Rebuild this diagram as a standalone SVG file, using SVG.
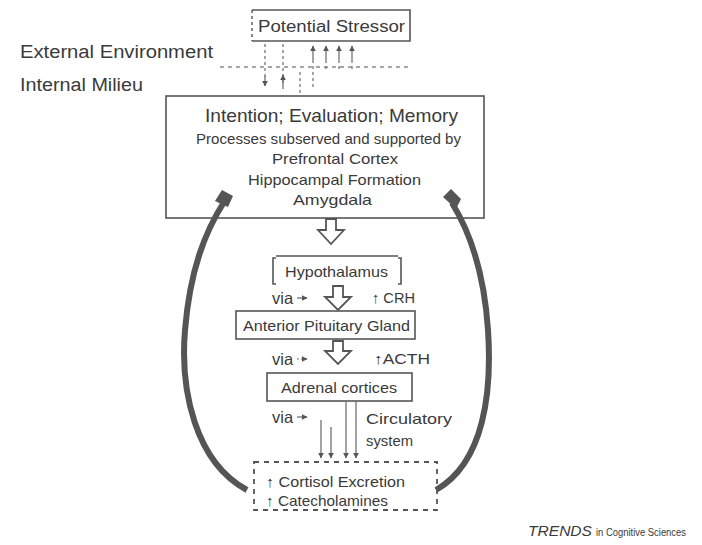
<svg xmlns="http://www.w3.org/2000/svg" width="702" height="545" viewBox="0 0 702 545">
<defs>
<style>
text{font-family:"Liberation Sans",Arial,sans-serif;fill:#3a3a3a}
.box{fill:#fff;stroke:#555;stroke-width:1.6}
.dash{fill:none;stroke:#555;stroke-width:1.8;stroke-dasharray:5 5}
.thin{stroke:#666;stroke-width:1.2;fill:none}
.dot{stroke:#777;stroke-width:1.3;fill:none;stroke-dasharray:3 3}
.hollow{fill:#fff;stroke:#555;stroke-width:1.8;stroke-linejoin:miter}
.arc{fill:none;stroke:#555;stroke-width:6}
.t19{font-size:19px}
.t14{font-size:14.5px}
.t15{font-size:15px}
.via{font-size:16.5px}
</style>
<marker id="sa" viewBox="0 0 10 10" refX="9" refY="5" markerWidth="6" markerHeight="6" orient="auto" markerUnits="userSpaceOnUse"><path d="M0,0 L10,5 L0,10 Z" fill="#555"/></marker>
</defs>
<rect width="702" height="545" fill="#fff"/>

<text x="20" y="58" style="font-size:18px" textLength="193" lengthAdjust="spacingAndGlyphs">External Environment</text>
<text x="20" y="91" style="font-size:18px" textLength="123" lengthAdjust="spacingAndGlyphs">Internal Milieu</text>

<g id="stressor">
<path d="M252,10 L410,10 L410,41 L252,41" fill="#fff" stroke="#555" stroke-width="1.6"/>
<path d="M252,10 L252,41" stroke="#555" stroke-width="1.4" stroke-dasharray="3 3"/>
<text x="258" y="32" style="font-size:16px" textLength="147" lengthAdjust="spacingAndGlyphs">Potential Stressor</text>
</g>

<g id="main">
<rect class="box" x="166" y="96" width="318" height="122"/>
<text x="205" y="122" class="t19" textLength="253" lengthAdjust="spacingAndGlyphs">Intention; Evaluation; Memory</text>
<text x="196" y="144" class="t14" textLength="265" lengthAdjust="spacingAndGlyphs">Processes subserved and supported by</text>
<text x="272" y="164" class="t14" textLength="126" lengthAdjust="spacingAndGlyphs">Prefrontal Cortex</text>
<text x="248" y="185" class="t14" textLength="173" lengthAdjust="spacingAndGlyphs">Hippocampal Formation</text>
<text x="293" y="205" class="t14" textLength="79" lengthAdjust="spacingAndGlyphs">Amygdala</text>
</g>

<g id="hypothalamus">
<path d="M276,258 L273,258 L273,284 L276,284 M398,258 L401,258 L401,284 L398,284 M276,256 L398,256" fill="none" stroke="#555" stroke-width="1.6"/>
<text x="285" y="277" class="t15" textLength="103" lengthAdjust="spacingAndGlyphs">Hypothalamus</text>
</g>
<text x="272" y="304" class="via">via</text>
<text x="372" y="303" class="t15" textLength="43" lengthAdjust="spacingAndGlyphs">↑ CRH</text>

<g id="pituitary">
<rect class="box" x="236" y="311" width="179" height="28"/>
<text x="243" y="331" class="t15" textLength="167" lengthAdjust="spacingAndGlyphs">Anterior Pituitary Gland</text>
</g>
<text x="272" y="365" class="via">via</text>
<text x="374" y="364" class="t15" textLength="56" lengthAdjust="spacingAndGlyphs">↑ACTH</text>

<g id="adrenal">
<rect class="box" x="267" y="373" width="145" height="28"/>
<text x="281" y="393" class="t15" textLength="116" lengthAdjust="spacingAndGlyphs">Adrenal cortices</text>
</g>
<text x="272" y="423" class="via">via</text>
<text x="366" y="424" class="t15" textLength="86" lengthAdjust="spacingAndGlyphs">Circulatory</text>
<text x="366" y="446" class="t15" textLength="47" lengthAdjust="spacingAndGlyphs">system</text>

<g id="output">
<rect class="dash" x="254" y="462" width="183" height="48"/>
<text x="266" y="487" class="t15" textLength="139" lengthAdjust="spacingAndGlyphs">↑ Cortisol Excretion</text>
<text x="266" y="506" class="t15" textLength="122" lengthAdjust="spacingAndGlyphs">↑ Catecholamines</text>
</g>

<g id="connectors">
<path d="M220,67 L410,67" stroke="#888" stroke-width="1.3" stroke-dasharray="4 4"/>
<path class="dot" d="M265,44 L265,78"/>
<path class="dot" d="M283,44 L283,92"/>
<path class="dot" d="M300,72 L300,94"/>
<path class="dot" d="M313,60 L313,90"/>
<path class="dot" d="M326,60 L326,72"/>
<path class="dot" d="M339,60 L339,72"/>
<path class="dot" d="M352,60 L352,72"/>
<path class="thin" d="M313,60 L313,46" marker-end="url(#sa)"/>
<path class="thin" d="M326,60 L326,46" marker-end="url(#sa)"/>
<path class="thin" d="M339,60 L339,46" marker-end="url(#sa)"/>
<path class="thin" d="M352,60 L352,46" marker-end="url(#sa)"/>
<path class="thin" d="M265,76 L265,86" marker-end="url(#sa)"/>
<path class="thin" d="M283,86 L283,75" marker-end="url(#sa)"/>

<path class="hollow" d="M326,219 L336,219 L336,230 L344,230 L331,244 L318,230 L326,230 Z"/>
<path class="hollow" d="M333,286 L343,286 L343,297 L351,297 L338,310 L325,297 L333,297 Z"/>
<path class="hollow" d="M333,341 L343,341 L343,351 L351,351 L338,364 L325,351 L333,351 Z"/>

<path class="thin" d="M297,298 L307,298" stroke-width="1.6" marker-end="url(#sa)"/>
<path class="thin" d="M297,359 L307,359" stroke-dasharray="2 2" marker-end="url(#sa)"/>
<path class="thin" d="M297,417 L307,417" stroke-width="1.6" marker-end="url(#sa)"/>

<path class="thin" d="M346,402 L346,458" marker-end="url(#sa)"/>
<path class="thin" d="M356,402 L356,458" marker-end="url(#sa)"/>
<path class="thin" d="M321,420 L321,458" marker-end="url(#sa)"/>
<path class="thin" d="M331,427 L331,458" marker-end="url(#sa)"/>

<path class="arc" d="M247,490 C 195,462 180,390 185,330 C 190,270 205,232 224,202"/>
<path d="M215,201 L222,190 L233,196 L228,207 Z" fill="#555"/>
<path class="arc" d="M436,490 C 485,462 492,390 488,330 C 484,270 470,232 452,203"/>
<path d="M443,197 L451,189 L461,199 L456,209 Z" fill="#555"/>
</g>

<text x="528" y="536" style="font-size:14px" font-style="italic" textLength="64" lengthAdjust="spacingAndGlyphs">TRENDS</text>
<text x="596" y="536" style="font-size:11px" textLength="90" lengthAdjust="spacingAndGlyphs">in Cognitive Sciences</text>
</svg>
